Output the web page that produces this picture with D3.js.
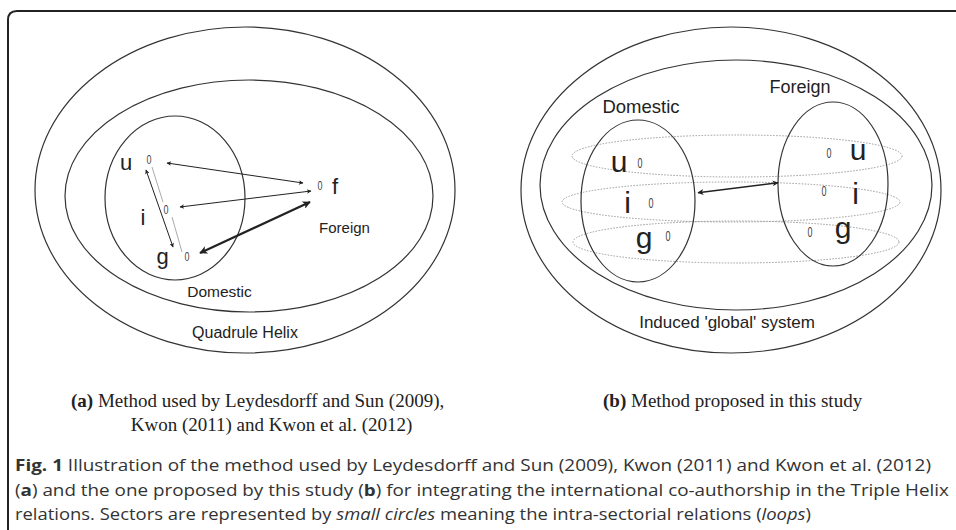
<!DOCTYPE html>
<html lang="en">
<head>
<meta charset="utf-8" />
<title>Fig. 1</title>
<script src="https://d3js.org/d3.v7.min.js"></script>
<style>
  body { margin: 0; background: #fff; }
  svg text { font-family: "Liberation Sans", Arial, sans-serif; fill: #222; }
</style>
</head>
<body>
<div id="fig"></div>
<script>
// ---- diagram data, in units relative to each panel's centre ----
// ellipses: domestic / foreign sets and the helix boundaries
var ellipsesA = [
  {cx: 0, cy: 0, rx: 210, ry: 163},
  {cx: 4, cy: 6, rx: 184, ry: 116},
  {cx: -70, cy: 8, rx: 70, ry: 82}
];
var ellipsesB = [
  {cx: 0, cy: 0, rx: 210, ry: 163},
  {cx: 5, cy: -5, rx: 196, ry: 125},
  {cx: -93, cy: 11, rx: 57, ry: 81},
  {cx: 102, cy: -6, rx: 55, ry: 82}
];
// dotted loops linking the same sector across countries
var loopsB = [
  {cx: 6, cy: -34, rx: 165, ry: 21},
  {cx: 0, cy: 12, rx: 169, ry: 20},
  {cx: 5, cy: 52, rx: 163, ry: 21}
];

// sector nodes ("0") and sector letters
var nodesA = [{x: -96, y: -31}, {x: -79, y: 19.5}, {x: -58, y: 66}, {x: 75, y: -5}];
var lettersA = [
  {t: "u", x: -119, y: -20}, {t: "i", x: -102, y: 35},
  {t: "g", x: -82.5, y: 73.5}, {t: "f", x: 90, y: 3.5}
];
var nodesB = [
  {x: -91, y: -27}, {x: -80, y: 13}, {x: -63, y: 46},
  {x: 98, y: -37}, {x: 93, y: 1}, {x: 79, y: 42}
];
var lettersB = [
  {t: "u", x: -112, y: -18.5}, {t: "i", x: -103.5, y: 23}, {t: "g", x: -87, y: 58},
  {t: "u", x: 127, y: -30}, {t: "i", x: 124.5, y: 14}, {t: "g", x: 112, y: 48}
];

// relations (arrows)
var arrowsA = [
  {x1: -78, y1: -27, x2: 58, y2: -7, k: "thin"},
  {x1: -65, y1: 17, x2: 66, y2: 1, k: "thin"},
  {x1: -45, y1: 63, x2: 65, y2: 12, k: "thick"},
  {x1: -99, y1: -20, x2: -72, y2: 57, k: "thin"}
];
var faintA = [
  {x1: -93, y1: -23, x2: -82, y2: 12},
  {x1: -73, y1: 27, x2: -63, y2: 62}
];
var arrowsB = [{x1: -33, y1: 2.7, x2: 47, y2: -7.3, k: "mid"}];

// set labels
var labelsA = [
  {t: "Foreign", x: 99.5, y: 42.5, s: 15},
  {t: "Domestic", x: -25.5, y: 107, s: 15.5},
  {t: "Quadrule Helix", x: 0, y: 148, s: 16}
];
var labelsB = [
  {t: "Domestic", x: -90, y: -77, s: 18.5},
  {t: "Foreign", x: 69, y: -97.5, s: 18},
  {t: "Induced 'global' system", x: -4, y: 138, s: 17}
];

// captions
var subA1 = [{t: "(a)", b: true}, {t: " Method used by Leydesdorff and Sun (2009),"}];
var subA2 = [{t: "Kwon (2011) and Kwon et al. (2012)"}];
var subB = [{t: "(b)", b: true}, {t: " Method proposed in this study"}];
var figCaption = [
  [{t: "Fig. 1", b: true}, {t: " Illustration of the method used by Leydesdorff and Sun (2009), Kwon (2011) and Kwon et al. (2012)"}],
  [{t: "("}, {t: "a", b: true}, {t: ") and the one proposed by this study ("}, {t: "b", b: true}, {t: ") for integrating the international co-authorship in the Triple Helix"}],
  [{t: "relations. Sectors are represented by "}, {t: "small circles", i: true}, {t: " meaning the intra-sectorial relations ("}, {t: "loops", i: true}, {t: ")"}]
];

// ---- drawing ----
var W = 956, H = 530;
var svg = d3.select("#fig").append("svg")
  .attr("width", W).attr("height", H);

var defs = svg.append("defs");
var heads = {thin: [8, 4.5], mid: [10, 6], thick: [13, 8]};
Object.keys(heads).forEach(function(k) {
  defs.append("marker")
    .attr("id", "head-" + k)
    .attr("viewBox", "0 0 10 10")
    .attr("refX", 9).attr("refY", 5)
    .attr("markerUnits", "userSpaceOnUse")
    .attr("markerWidth", heads[k][0]).attr("markerHeight", heads[k][1])
    .attr("orient", "auto-start-reverse")
    .append("path")
    .attr("d", "M0,0 L10,5 L0,10 L2.5,5 z")
    .attr("fill", "#222");
});
var widths = {thin: 1, mid: 1.5, thick: 2.2};

// frame
svg.append("path")
  .attr("d", "M" + W + ",11 H17 Q8,11 8,20 V" + H)
  .attr("fill", "none").attr("stroke", "#222").attr("stroke-width", 2);

function panel(cx, cy) {
  var x = d3.scaleLinear().domain([-210, 210]).range([cx - 210, cx + 210]);
  var y = d3.scaleLinear().domain([-163, 163]).range([cy - 163, cy + 163]);
  var g = svg.append("g");
  return {x: x, y: y, g: g};
}

function drawEllipses(p, data, cls) {
  p.g.selectAll("ellipse." + cls).data(data).enter().append("ellipse")
    .attr("class", cls)
    .attr("cx", function(d) { return p.x(d.cx); })
    .attr("cy", function(d) { return p.y(d.cy); })
    .attr("rx", function(d) { return p.x(d.rx) - p.x(0); })
    .attr("ry", function(d) { return p.y(d.ry) - p.y(0); })
    .attr("fill", "none");
}

function drawArrows(p, data) {
  p.g.selectAll("line.arrow").data(data).enter().append("line")
    .attr("class", "arrow")
    .attr("x1", function(d) { return p.x(d.x1); })
    .attr("y1", function(d) { return p.y(d.y1); })
    .attr("x2", function(d) { return p.x(d.x2); })
    .attr("y2", function(d) { return p.y(d.y2); })
    .attr("stroke", "#222")
    .attr("stroke-width", function(d) { return widths[d.k]; })
    .attr("marker-start", function(d) { return "url(#head-" + d.k + ")"; })
    .attr("marker-end", function(d) { return "url(#head-" + d.k + ")"; });
}

function drawNodes(p, data, size) {
  p.g.selectAll("text.node").data(data).enter().append("text")
    .attr("class", "node")
    .attr("x", function(d) { return p.x(d.x); })
    .attr("y", function(d) { return p.y(d.y) + size * 0.36; })
    .attr("text-anchor", "middle")
    .attr("textLength", 5).attr("lengthAdjust", "spacingAndGlyphs")
    .style("font-size", size + "px")
    .style("fill", "#444")
    .text("0");
}

function drawLetters(p, data, size) {
  p.g.selectAll("text.letter").data(data).enter().append("text")
    .attr("class", "letter")
    .attr("x", function(d) { return p.x(d.x); })
    .attr("y", function(d) { return p.y(d.y); })
    .attr("text-anchor", "middle")
    .style("font-size", size + "px")
    .text(function(d) { return d.t; });
}

function drawLabels(p, data) {
  p.g.selectAll("text.label").data(data).enter().append("text")
    .attr("class", "label")
    .attr("x", function(d) { return p.x(d.x); })
    .attr("y", function(d) { return p.y(d.y); })
    .attr("text-anchor", "middle")
    .style("font-size", function(d) { return d.s + "px"; })
    .text(function(d) { return d.t; });
}

// panel (a)
var pa = panel(245, 190);
drawEllipses(pa, ellipsesA, "set");
pa.g.selectAll("ellipse.set").attr("stroke", "#333").attr("stroke-width", 1.2);
pa.g.selectAll("line.faint").data(faintA).enter().append("line")
  .attr("class", "faint")
  .attr("x1", function(d) { return pa.x(d.x1); })
  .attr("y1", function(d) { return pa.y(d.y1); })
  .attr("x2", function(d) { return pa.x(d.x2); })
  .attr("y2", function(d) { return pa.y(d.y2); })
  .attr("stroke", "#aaa").attr("stroke-width", 1);
drawArrows(pa, arrowsA);
drawNodes(pa, nodesA, 13);
drawLetters(pa, lettersA, 22);
drawLabels(pa, labelsA);

// panel (b)
var pb = panel(731, 190);
drawEllipses(pb, loopsB, "loop");
pb.g.selectAll("ellipse.loop")
  .attr("stroke", "#999").attr("stroke-width", 1).attr("stroke-dasharray", "1.5,1.5");
drawEllipses(pb, ellipsesB, "set");
pb.g.selectAll("ellipse.set").attr("stroke", "#333").attr("stroke-width", 1.2);
drawArrows(pb, arrowsB);
drawNodes(pb, nodesB, 14);
drawLetters(pb, lettersB, 30);
drawLabels(pb, labelsB);

// sub-captions (serif)
function richText(parent, segs, x, y, anchor, font, size, fill) {
  var t = parent.append("text")
    .attr("x", x).attr("y", y)
    .attr("text-anchor", anchor)
    .style("font-family", font)
    .style("font-size", size + "px")
    .style("fill", fill)
    .attr("xml:space", "preserve");
  segs.forEach(function(s) {
    t.append("tspan")
      .style("font-weight", s.b ? "bold" : null)
      .style("font-style", s.i ? "italic" : null)
      .text(s.t);
  });
  return t;
}
var serif = '"Liberation Serif", "Times New Roman", serif';
richText(svg, subA1, 71, 407, "start", serif, 19, "#222");
richText(svg, subA2, 271.5, 431, "middle", serif, 19, "#222");
richText(svg, subB, 603, 407, "start", serif, 19, "#222");

// figure caption
var capY = [471, 496, 520];
var capLen = [916, 934, 796];
figCaption.forEach(function(line, i) {
  richText(svg, line, 15, capY[i], "start", '"Open Sans", sans-serif', 16.5, "#333")
    .attr("textLength", capLen[i]).attr("lengthAdjust", "spacingAndGlyphs");
});
</script>
</body>
</html>
